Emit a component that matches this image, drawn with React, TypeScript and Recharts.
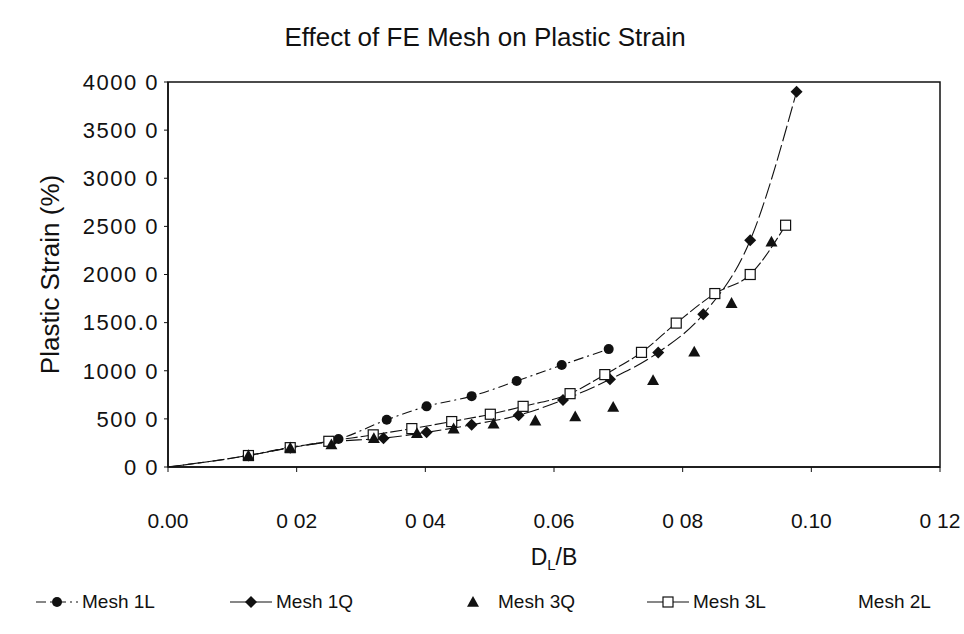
import React from "react";
import {
  ComposedChart,
  Line,
  Scatter,
  XAxis,
  YAxis,
  ReferenceArea,
} from "recharts";

// axis ticks, labels copied as they appear on the scan
const X_TICKS = [0, 0.02, 0.04, 0.06, 0.08, 0.1, 0.12];
const X_TICK_LABELS = ["0.00", "0 02", "0 04", "0.06", "0 08", "0.10", "0 12"];
const Y_TICKS = [0, 500, 1000, 1500, 2000, 2500, 3000, 3500, 4000];
const Y_TICK_LABELS = ["0 0", "500 0", "1000 0", "1500.0", "2000 0", "2500 0", "3000 0", "3500 0", "4000 0"];

// Mesh 1L (circles, dash-dot)
const mesh1LX = [0.0125, 0.019, 0.0265, 0.034, 0.0402, 0.0472, 0.0542, 0.0612, 0.0685];
const mesh1LY = [120, 205, 290, 490, 630, 736, 894, 1059, 1225];

// Mesh 1Q (filled diamonds)
const mesh1QX = [0, 0.0125, 0.019, 0.0255, 0.0335, 0.0402, 0.0472, 0.0545, 0.0614, 0.0687, 0.0762, 0.0832, 0.0905, 0.0977];
const mesh1QY = [0, 120, 200, 262, 300, 360, 439, 538, 696, 911, 1190, 1587, 2356, 3898];

// Mesh 3Q (triangles, markers only)
const mesh3QX = [0.0125, 0.019, 0.0254, 0.032, 0.0387, 0.0444, 0.0506, 0.0571, 0.0633, 0.0692, 0.0754, 0.0818, 0.0876, 0.0938];
const mesh3QY = [120, 200, 235, 300, 350, 399, 449, 482, 525, 624, 901, 1198, 1703, 2340];

// Mesh 3L (open squares)
const mesh3LX = [0, 0.0125, 0.019, 0.025, 0.0319, 0.0379, 0.0441, 0.0501, 0.0552, 0.0625, 0.0679, 0.0736, 0.079, 0.085, 0.0905, 0.096];
const mesh3LY = [0, 119, 201, 267, 334, 399, 472, 548, 630, 762, 960, 1191, 1495, 1802, 2000, 2512];

const toPoints = (xs: number[], ys: number[]) => xs.map((x, i) => ({ x, y: ys[i] }));

const mesh1L = toPoints(mesh1LX, mesh1LY);
const mesh1Q = toPoints(mesh1QX, mesh1QY);
const mesh3Q = toPoints(mesh3QX, mesh3QY);
const mesh3L = toPoints(mesh3LX, mesh3LY);

const FONT = "'Liberation Sans', Arial, sans-serif";
const INK = "#111";

const W = 964;
const H = 634;

function Circle({ cx, cy }: { cx: number; cy: number }) {
  return <circle cx={cx} cy={cy} r={5} fill={INK} />;
}

function Diamond({ cx, cy }: { cx: number; cy: number }) {
  const s = 6;
  return <path d={`M${cx},${cy - s}L${cx + s},${cy}L${cx},${cy + s}L${cx - s},${cy}Z`} fill={INK} />;
}

function Triangle({ cx, cy }: { cx: number; cy: number }) {
  const s = 6;
  return <path d={`M${cx},${cy - s}L${cx + s},${cy + s * 0.8}L${cx - s},${cy + s * 0.8}Z`} fill={INK} />;
}

function Square({ cx, cy }: { cx: number; cy: number }) {
  const s = 5;
  return <rect x={cx - s} y={cy - s} width={2 * s} height={2 * s} fill="#fff" stroke={INK} strokeWidth={1.2} />;
}

function XTitle({ viewBox }: any) {
  const cx = viewBox.x + viewBox.width / 2;
  return (
    <text x={cx} y={viewBox.y + 98} textAnchor="middle" fontSize={23} fontFamily={FONT} fill={INK}>
      D<tspan fontSize={15} dy={5}>L</tspan>
      <tspan dy={-5}>/B</tspan>
    </text>
  );
}

function LegendIcon({ kind }: { kind: string }) {
  const w = 46;
  const mid = 23;
  return (
    <svg width={w} height={16} style={{ marginRight: 2 }}>
      {kind === "1L" && <line x1={2} y1={8} x2={44} y2={8} stroke={INK} strokeWidth={1.2} strokeDasharray="10 4 2 4" />}
      {kind === "1Q" && <line x1={2} y1={8} x2={44} y2={8} stroke={INK} strokeWidth={1.2} />}
      {kind === "3L" && <line x1={2} y1={8} x2={44} y2={8} stroke={INK} strokeWidth={1.2} />}
      {kind === "1L" && <Circle cx={mid} cy={8} />}
      {kind === "1Q" && <Diamond cx={mid} cy={8} />}
      {kind === "3Q" && <Triangle cx={mid} cy={8} />}
      {kind === "3L" && <Square cx={mid} cy={8} />}
    </svg>
  );
}

const LEGEND_ITEMS = [
  { kind: "1L", label: "Mesh 1L", left: 34 },
  { kind: "1Q", label: "Mesh 1Q", left: 228 },
  { kind: "3Q", label: "Mesh 3Q", left: 450 },
  { kind: "3L", label: "Mesh 3L", left: 645 },
  { kind: "2L", label: "Mesh 2L", left: 810 },
];

export default function App() {
  return (
    <div style={{ position: "absolute", left: 0, top: 0, width: W, height: H, background: "#fff", fontFamily: FONT }}>
      <div
        style={{
          position: "absolute",
          top: 22,
          left: 0,
          width: 970,
          textAlign: "center",
          fontSize: 26,
          lineHeight: "30px",
          color: INK,
        }}
      >
        Effect of FE Mesh on Plastic Strain
      </div>

      <ComposedChart
        width={W}
        height={H}
        margin={{ top: 82, right: 24, left: 0, bottom: 67 }}
        style={{ position: "absolute", left: 0, top: 0 }}
      >
        <ReferenceArea x1={0} x2={0.12} y1={0} y2={4000} fill="none" stroke={INK} strokeWidth={1.5} ifOverflow="visible" />
        <XAxis
          type="number"
          dataKey="x"
          domain={[0, 0.12]}
          ticks={X_TICKS}
          allowDataOverflow
          height={100}
          tickSize={5}
          tickMargin={41}
          axisLine={{ stroke: INK, strokeWidth: 1.5 }}
          tickLine={{ stroke: INK }}
          tick={{ fill: INK, fontSize: 21, fontFamily: FONT }}
          tickFormatter={(v, i) => X_TICK_LABELS[i] ?? String(v)}
          label={<XTitle />}
        />
        <YAxis
          type="number"
          dataKey="y"
          domain={[0, 4000]}
          ticks={Y_TICKS}
          allowDataOverflow
          width={168}
          tickSize={4}
          tickMargin={5}
          axisLine={{ stroke: INK, strokeWidth: 1.5 }}
          tickLine={{ stroke: INK }}
          tick={{ fill: INK, fontSize: 22, fontFamily: FONT, letterSpacing: 1.5 }}
          tickFormatter={(v, i) => Y_TICK_LABELS[i] ?? String(v)}
          label={{
            value: "Plastic Strain (%)",
            angle: -90,
            position: "insideLeft",
            offset: 50,
            style: { fill: INK, fontSize: 26, fontFamily: FONT, textAnchor: "middle" },
          }}
        />

        <Line
          data={mesh1L}
          dataKey="y"
          type="monotone"
          stroke={INK}
          strokeWidth={1.1}
          strokeDasharray="10 4 2 4"
          dot={(p: any) => <Circle key={`c-${p.index}`} cx={p.cx} cy={p.cy} />}
          activeDot={false}
          isAnimationActive={false}
        />
        <Line
          data={mesh1Q}
          dataKey="y"
          type="monotone"
          stroke={INK}
          strokeWidth={1.1}
          strokeDasharray="16 4"
          dot={(p: any) => (p.index === 0 ? <g key="d-0" /> : <Diamond key={`d-${p.index}`} cx={p.cx} cy={p.cy} />)}
          activeDot={false}
          isAnimationActive={false}
        />
        <Line
          data={mesh3L}
          dataKey="y"
          type="monotone"
          stroke={INK}
          strokeWidth={1.1}
          strokeDasharray="12 3"
          dot={(p: any) => (p.index === 0 ? <g key="s-0" /> : <Square key={`s-${p.index}`} cx={p.cx} cy={p.cy} />)}
          activeDot={false}
          isAnimationActive={false}
        />
        <Scatter
          data={mesh3Q}
          dataKey="y"
          shape={(p: any) => <Triangle cx={p.cx} cy={p.cy} />}
          isAnimationActive={false}
        />
      </ComposedChart>

      {LEGEND_ITEMS.map((item) => (
        <div
          key={item.label}
          style={{
            position: "absolute",
            top: 591,
            left: item.left,
            display: "flex",
            alignItems: "center",
            fontSize: 19,
            color: INK,
            whiteSpace: "nowrap",
          }}
        >
          <LegendIcon kind={item.kind} />
          <span>{item.label}</span>
        </div>
      ))}
    </div>
  );
}
